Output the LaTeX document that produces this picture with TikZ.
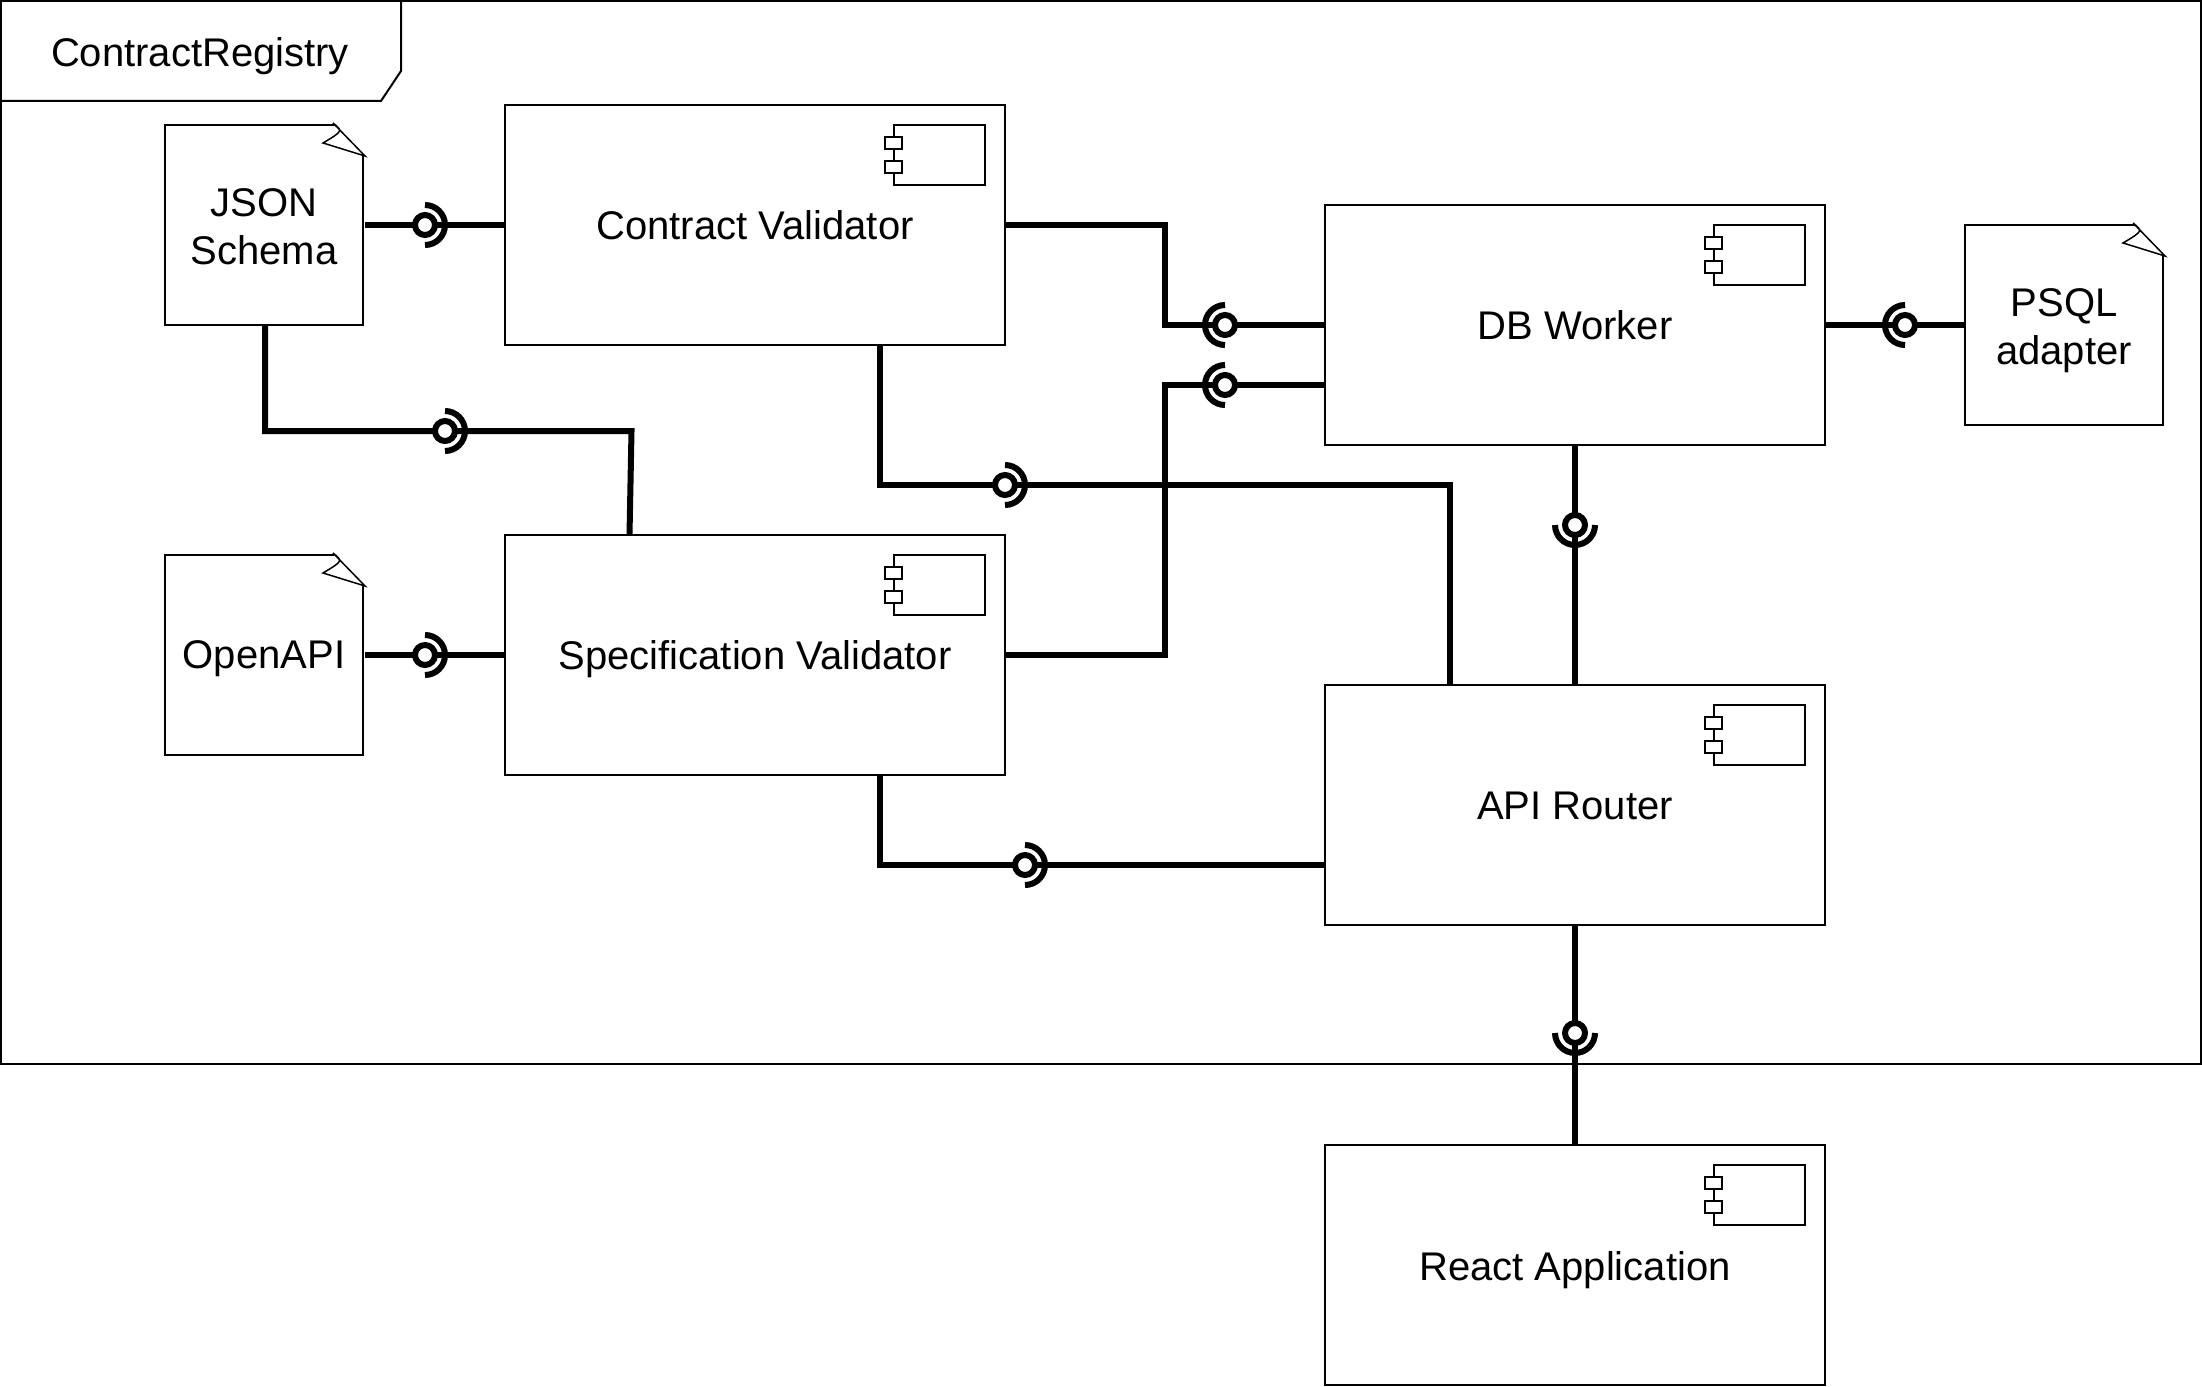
\documentclass[tikz,border=0pt]{standalone}
\usepackage{fontspec}
\setmainfont{Liberation Sans}
\usetikzlibrary{backgrounds}
\tikzset{
  thin line/.style={draw=black,line width=2pt},
  label text/.style={font=\fontsize{40pt}{48pt}\selectfont,align=center,inner sep=0pt,outer sep=0pt,text depth=0pt},
  compbox/.style={thin line,label text,minimum width=500pt,minimum height=240pt,rectangle},
  notebody/.style={label text,minimum width=198pt,minimum height=200pt,rectangle},
  conn/.style={draw=black,line width=6pt,line cap=butt,line join=miter},
  sockball/.style={circle,draw=black,fill=white,line width=6pt,minimum size=20pt,inner sep=0pt,outer sep=0pt},
  sockarc/.style={draw=black,line width=6pt},
}
% component box with its icon
\newcommand{\compnode}[4]{%
  \node[compbox] (#1) at (#2,#3) {\raisebox{-1pt}{#4}};
  \draw[thin line] ([xshift=-111pt,yshift=-20pt]#1.north east) rectangle ([xshift=-20pt,yshift=-80pt]#1.north east);
  \draw[thin line,fill=white] ([xshift=-120pt,yshift=-32pt]#1.north east) rectangle ([xshift=-103pt,yshift=-44pt]#1.north east);
  \draw[thin line,fill=white] ([xshift=-120pt,yshift=-56pt]#1.north east) rectangle ([xshift=-103pt,yshift=-68pt]#1.north east);
}
% note with a folded corner; #2,#3 = top left corner, #4 = text centre offset
\newcommand{\notenode}[5]{%
  \node[notebody] (#1) at (#2+99,#3+100+#4) {#5};
  \draw[thin line,line join=miter] (#2+170,#3) -- (#2,#3) -- (#2,#3+200) -- (#2+198,#3+200) -- (#2+198,#3+31);
  \draw[line width=1.5pt,line join=miter] (#2+168,#3-2) -- (#2+200,#3+31) -- (#2+158,#3+18) .. controls (#2+178,#3+6) .. (#2+168,#3-2);
}
% provided/required socket: ball plus half-ring
\newcommand{\socket}[4]{%
  \ifx#4r\draw[sockarc] (#2,#3-20) arc[start angle=90,end angle=-90,radius=20pt];\fi
  \ifx#4l\draw[sockarc] (#2,#3-20) arc[start angle=90,end angle=270,radius=20pt];\fi
  \ifx#4b\draw[sockarc] (#2-20,#3) arc[start angle=180,end angle=360,radius=20pt];\fi
  \node[sockball] (#1) at (#2,#3) {};
}
\begin{document}
\begin{tikzpicture}[x=1pt,y=-1pt]
\useasboundingbox (0,0) rectangle (2202,1386);
% frame
\node[thin line,rectangle,minimum width=2200pt,minimum height=1063pt,inner sep=0pt,outer sep=0pt] (frame) at (1101,532.5) {};
\draw[thin line,line join=miter] (1,101) -- (381,101) -- (401,71) -- (401,1);
\node[label text] (title) at (200,52) {ContractRegistry};
% components
\compnode{cv}{755}{225}{Contract Validator}
\compnode{sv}{755}{655}{Specification Validator}
\compnode{db}{1575}{325}{DB Worker}
\compnode{api}{1575}{805}{API Router}
\compnode{react}{1575}{1265}{React Application}
% notes
\notenode{json}{165}{125}{1.5}{JSON\\Schema}
\notenode{oa}{165}{555}{0}{OpenAPI}
\notenode{psql}{1965}{225}{1.5}{PSQL\\adapter}
% sockets
\socket{s1}{425}{225}{r}
\socket{s2}{1225}{325}{l}
\socket{s3}{1225}{385}{l}
\socket{s4}{1905}{325}{l}
\socket{s5}{1575}{525}{b}
\socket{s6}{1575}{1033}{b}
\socket{s7}{445}{431}{r}
\socket{s8}{1005}{485}{r}
\socket{s9}{425}{655}{r}
\socket{s10}{1025}{865}{r}
% free ends and bends
\coordinate (j1) at (365,225);
\coordinate (j2) at (365,655);
\coordinate (pw) at (1965,325);
\coordinate (c2) at (1165,225);
\coordinate (d2) at (1165,325);
\coordinate (c3) at (1165,655);
\coordinate (d3) at (1165,385);
\coordinate (e3) at (1325,385);
\coordinate (js) at (265,325);
\coordinate (c7) at (265,431);
\coordinate (d7) at (631.5,431);
\coordinate (e7) at (629.5,535);
\coordinate (cvb) at (880,345);
\coordinate (c8) at (880,485);
\coordinate (d8) at (1450,485);
\coordinate (e8) at (1450,685);
\coordinate (svb) at (880,775);
\coordinate (c10) at (880,865);
\coordinate (e10) at (1325,865);
\begin{scope}[on background layer]
\draw[conn] (j1) -- (s1) -- (cv.west);
\draw[conn] (j2) -- (s9) -- (sv.west);
\draw[conn] (cv.east) -- (c2) -- (d2) -- (s2) -- (db.west);
\draw[conn] (sv.east) -- (c3) -- (d3) -- (s3) -- (e3);
\draw[conn] (db.east) -- (s4) -- (pw);
\draw[conn] (db.south) -- (s5) -- (api.north);
\draw[conn] (api.south) -- (s6) -- (react.north);
\draw[conn] (js) -- (c7) -- (s7) -- (d7) -- (e7);
\draw[conn] (cvb) -- (c8) -- (s8) -- (d8) -- (e8);
\draw[conn] (svb) -- (c10) -- (s10) -- (e10);
\end{scope}
\end{tikzpicture}
\end{document}
